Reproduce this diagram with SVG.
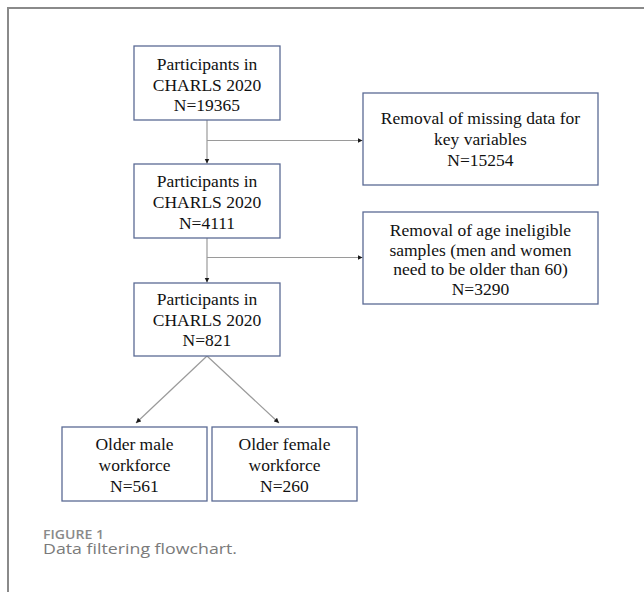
<svg xmlns="http://www.w3.org/2000/svg" width="644" height="592" viewBox="0 0 644 592">
<defs>
<marker id="arr" markerUnits="userSpaceOnUse" markerWidth="6" markerHeight="6" refX="5" refY="3" orient="auto">
<path d="M0,0.5 L5,3 L0,5.5 Z" fill="#1a1a1a"/>
</marker>
<style>
.box{fill:#fff;stroke:#5b6a94;stroke-width:1.3}
.t{font-family:"Liberation Serif","Times New Roman",serif;font-size:17.5px;fill:#111;text-anchor:middle}
.ca{stroke:#9a9a9a;stroke-width:1.2;fill:none;marker-end:url(#arr)}
.cap{font-family:"Open Sans","Noto Sans",sans-serif}
</style>
</defs>
<rect x="0" y="0" width="644" height="592" fill="#fff"/>
<path d="M8,592 V8 H644" fill="none" stroke="#8a8a8a" stroke-width="2"/>

<g id="connectors">
<line class="ca" x1="207" y1="120" x2="207" y2="163.5"/>
<line class="ca" x1="207" y1="140.5" x2="362.5" y2="140.5"/>
<line class="ca" x1="207" y1="238" x2="207" y2="282.5"/>
<line class="ca" x1="207" y1="257.5" x2="362.5" y2="257.5"/>
<line class="ca" x1="207" y1="356" x2="136" y2="423"/>
<line class="ca" x1="207" y1="356" x2="279" y2="423"/>
</g>

<g id="n1">
<rect class="box" x="134" y="46" width="146" height="74"/>
<text class="t" x="207" y="70">Participants in</text>
<text class="t" x="207" y="90.5">CHARLS 2020</text>
<text class="t" x="207" y="111">N=19365</text>
</g>

<g id="r1">
<rect class="box" x="363" y="93" width="235" height="92"/>
<text class="t" x="480.5" y="124">Removal of missing data for</text>
<text class="t" x="480.5" y="145">key variables</text>
<text class="t" x="480.5" y="166">N=15254</text>
</g>

<g id="n2">
<rect class="box" x="134" y="164" width="146" height="74"/>
<text class="t" x="207" y="187">Participants in</text>
<text class="t" x="207" y="208">CHARLS 2020</text>
<text class="t" x="207" y="229">N=4111</text>
</g>

<g id="r2">
<rect class="box" x="363" y="212" width="235" height="92"/>
<text class="t" x="480.5" y="236">Removal of age ineligible</text>
<text class="t" x="480.5" y="255.5">samples (men and women</text>
<text class="t" x="480.5" y="275">need to be older than 60)</text>
<text class="t" x="480.5" y="294.5">N=3290</text>
</g>

<g id="n3">
<rect class="box" x="134" y="283" width="146" height="73"/>
<text class="t" x="207" y="305">Participants in</text>
<text class="t" x="207" y="325.5">CHARLS 2020</text>
<text class="t" x="207" y="346">N=821</text>
</g>

<g id="male">
<rect class="box" x="62" y="427" width="145" height="74"/>
<text class="t" x="134.5" y="449.5">Older male</text>
<text class="t" x="134.5" y="470.5">workforce</text>
<text class="t" x="134.5" y="492">N=561</text>
</g>

<g id="female">
<rect class="box" x="212" y="427" width="145" height="74"/>
<text class="t" x="284.5" y="449.5">Older female</text>
<text class="t" x="284.5" y="470.5">workforce</text>
<text class="t" x="284.5" y="492">N=260</text>
</g>

<text class="cap" x="43" y="539" font-size="13" font-weight="600" fill="#8a8a8a" textLength="61" lengthAdjust="spacingAndGlyphs">FIGURE 1</text>
<text class="cap" x="43" y="554" font-size="15" font-weight="400" fill="#7a7a7a" textLength="194" lengthAdjust="spacingAndGlyphs">Data filtering flowchart.</text>
</svg>
